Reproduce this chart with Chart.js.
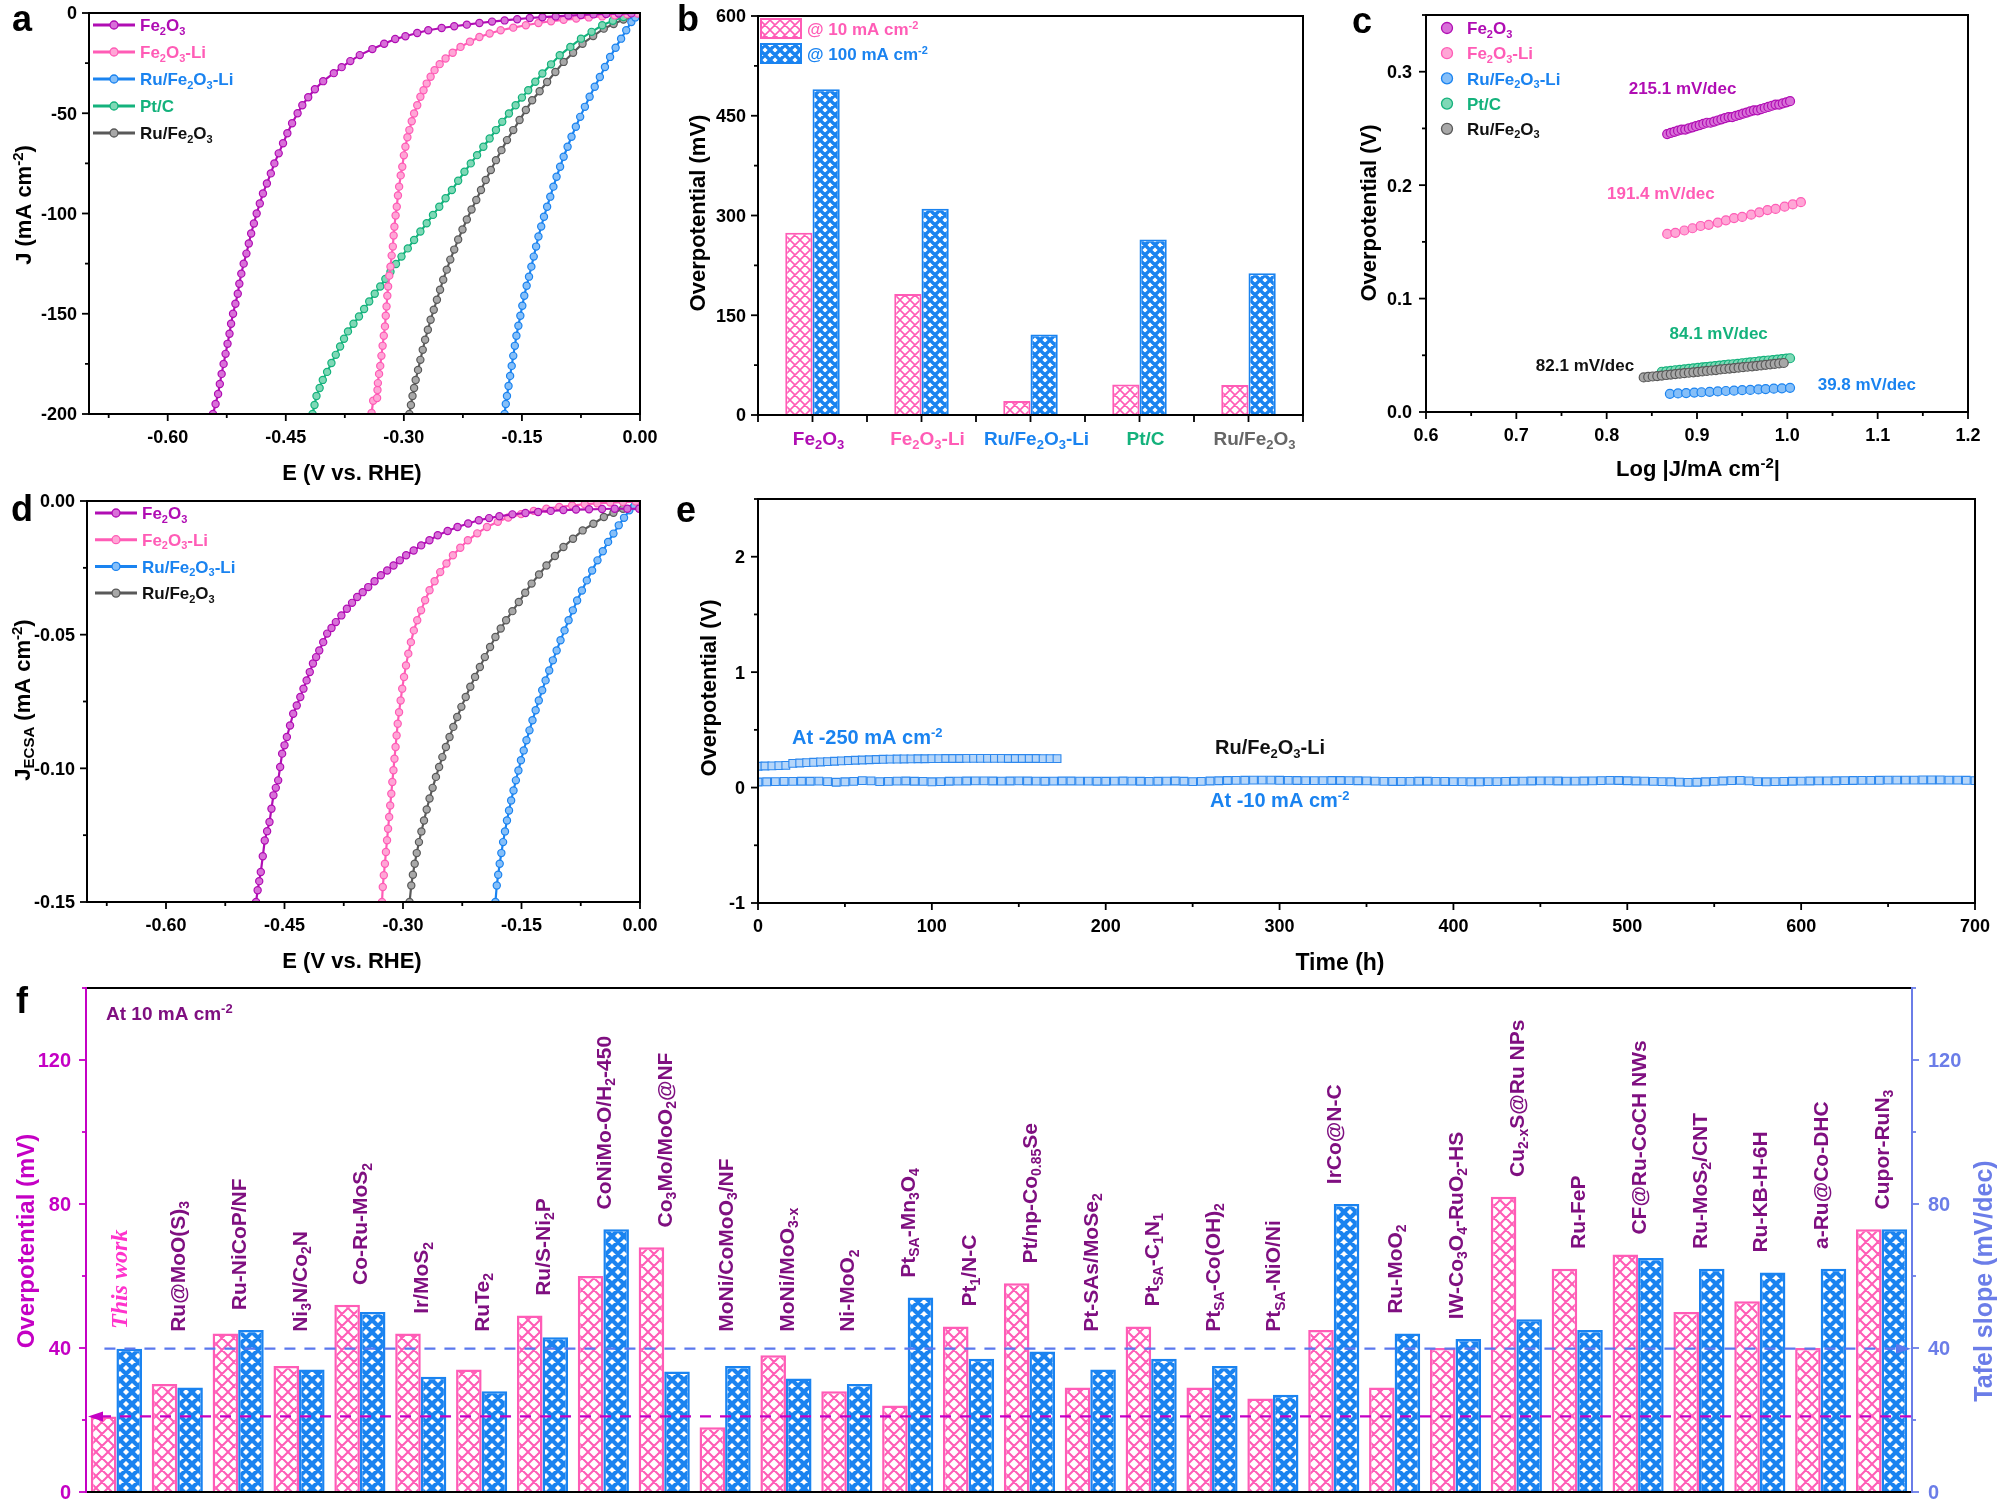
<!DOCTYPE html>
<html>
<head>
<meta charset="utf-8">
<title>Ru/Fe2O3-Li HER</title>
<script src="https://cdn.jsdelivr.net/npm/chart.js@4.4.1/dist/chart.umd.min.js"></script>
<style>
  html, body { margin: 0; padding: 0; background: #fff; }
  #wrap { position: relative; width: 1999px; height: 1502px; background: #fff; }
  #wrap canvas { position: absolute; left: 0; top: 0; }
</style>
</head>
<body>
<div id="wrap">
  <canvas id="pa" width="1999" height="1502"></canvas>
  <canvas id="pb" width="1999" height="1502"></canvas>
  <canvas id="pc" width="1999" height="1502"></canvas>
  <canvas id="pd" width="1999" height="1502"></canvas>
  <canvas id="pe" width="1999" height="1502"></canvas>
  <canvas id="pf" width="1999" height="1502"></canvas>
</div>
<script>
// ---- data ----

// a: LSV, [E (V vs RHE), J (mA cm-2)]
const aFe2O3 = [[-0.5425,-200],[-0.5392,-195],[-0.5360,-190],[-0.5338,-185],[-0.5315,-180],[-0.5290,-175],[-0.5265,-170],[-0.5240,-165],[-0.5215,-160],[-0.5195,-155],[-0.5170,-150],[-0.5140,-145],[-0.5110,-140],[-0.5090,-135],[-0.5065,-130],[-0.5035,-125],[-0.5000,-120],[-0.4970,-115],[-0.4940,-110],[-0.4905,-105],[-0.4870,-100],[-0.4830,-95],[-0.4790,-90],[-0.4740,-85],[-0.4690,-80],[-0.4645,-75],[-0.4590,-70],[-0.4535,-65],[-0.4480,-60],[-0.4420,-55],[-0.4350,-50],[-0.4290,-46],[-0.4215,-42],[-0.4130,-38],[-0.4025,-34],[-0.3890,-30],[-0.3790,-27],[-0.3680,-24],[-0.3560,-21],[-0.3400,-18],[-0.3250,-15.3],[-0.3110,-13],[-0.2980,-11.6],[-0.2830,-10],[-0.2690,-8.6],[-0.2520,-7.5],[-0.2360,-6.6],[-0.2200,-5.8],[-0.2040,-5.0],[-0.1880,-4.3],[-0.1720,-3.7],[-0.1560,-3.1],[-0.1400,-2.5],[-0.1240,-2.1],[-0.1070,-1.7],[-0.0910,-1.3],[-0.0750,-1.0],[-0.0590,-0.7],[-0.0430,-0.5],[-0.0270,-0.3],[-0.0110,-0.2]]
const aFe2O3Li = [[-0.341,-199.5],[-0.339,-193.4],[-0.334,-192],[-0.3335,-188],[-0.333,-184.6],[-0.3315,-180],[-0.330,-176],[-0.3285,-171],[-0.327,-166],[-0.3255,-161],[-0.324,-156.3],[-0.323,-151],[-0.322,-146.4],[-0.321,-141],[-0.320,-136.4],[-0.3185,-131],[-0.317,-126.5],[-0.3155,-121],[-0.314,-116.5],[-0.313,-111],[-0.312,-106.6],[-0.3105,-101],[-0.309,-96.6],[-0.3075,-91],[-0.306,-86.6],[-0.304,-81],[-0.302,-76.7],[-0.300,-71],[-0.298,-66.7],[-0.2955,-62],[-0.293,-58.4],[-0.290,-54],[-0.287,-50.1],[-0.283,-46],[-0.279,-41.8],[-0.275,-38.5],[-0.271,-35.2],[-0.266,-31.8],[-0.261,-28.5],[-0.2545,-25.5],[-0.247,-22.7],[-0.238,-19.8],[-0.228,-16.9],[-0.216,-14.3],[-0.204,-12],[-0.191,-10.2],[-0.177,-8.6],[-0.161,-7.3],[-0.145,-6.1],[-0.129,-5.0],[-0.113,-4.1],[-0.097,-3.4],[-0.081,-2.8],[-0.065,-2.2],[-0.048,-1.7],[-0.032,-1.2],[-0.016,-0.7],[-0.003,-0.3]]
const aRuLi = [[-0.172,-200],[-0.1705,-195],[-0.169,-191],[-0.167,-186],[-0.165,-181],[-0.163,-176],[-0.161,-171],[-0.159,-166],[-0.157,-161],[-0.1545,-156],[-0.152,-151],[-0.1495,-146],[-0.147,-141],[-0.144,-136],[-0.141,-131.5],[-0.138,-126.5],[-0.135,-121.5],[-0.132,-116.5],[-0.129,-111.5],[-0.1255,-106.5],[-0.122,-101.6],[-0.118,-96.6],[-0.114,-91.6],[-0.110,-86.6],[-0.106,-81.7],[-0.1015,-76.7],[-0.097,-71.7],[-0.092,-66.7],[-0.087,-61.7],[-0.0815,-56.7],[-0.076,-51.8],[-0.070,-46.8],[-0.064,-41.8],[-0.0575,-36.8],[-0.051,-31.9],[-0.0445,-26.9],[-0.038,-21.9],[-0.031,-17.3],[-0.024,-12.8],[-0.0175,-8.6],[-0.011,-4.5],[-0.006,-2.2],[-0.001,-0.3]]
const aPtC = [[-0.416,-200],[-0.4135,-195.5],[-0.411,-191],[-0.407,-187],[-0.403,-183],[-0.3975,-179],[-0.392,-174.6],[-0.3865,-170.5],[-0.381,-166.3],[-0.376,-162.5],[-0.371,-158.8],[-0.364,-155],[-0.357,-151.4],[-0.3505,-147.6],[-0.344,-143.9],[-0.337,-140],[-0.330,-136.4],[-0.3235,-132.7],[-0.317,-129],[-0.310,-125.2],[-0.303,-121.5],[-0.295,-117.4],[-0.287,-113.2],[-0.279,-109],[-0.271,-104.9],[-0.263,-100.7],[-0.255,-96.6],[-0.247,-92.4],[-0.239,-88.3],[-0.231,-83.7],[-0.223,-79.2],[-0.215,-75],[-0.207,-70.9],[-0.199,-66.7],[-0.191,-62.6],[-0.183,-58.4],[-0.175,-54.3],[-0.1665,-50.1],[-0.158,-46],[-0.150,-42.2],[-0.142,-38.5],[-0.133,-34.3],[-0.124,-30.2],[-0.113,-25.6],[-0.102,-21.1],[-0.0885,-16.9],[-0.075,-12.8],[-0.0615,-9.4],[-0.048,-6.1],[-0.0345,-3.9],[-0.021,-2],[-0.003,-0.3]]
const aRuFe = [[-0.293,-200],[-0.291,-195.5],[-0.289,-191],[-0.287,-187],[-0.285,-183],[-0.282,-178],[-0.279,-173],[-0.276,-168],[-0.273,-163],[-0.2695,-158],[-0.266,-153],[-0.262,-148],[-0.258,-143],[-0.254,-138],[-0.250,-133],[-0.2455,-128],[-0.241,-123],[-0.236,-118],[-0.231,-113],[-0.2255,-108],[-0.220,-103],[-0.214,-98],[-0.208,-93.3],[-0.202,-88.3],[-0.196,-83.3],[-0.1895,-78.3],[-0.183,-73.4],[-0.176,-68.4],[-0.169,-63.4],[-0.161,-58.4],[-0.153,-53.4],[-0.145,-48.4],[-0.137,-43.5],[-0.1275,-39],[-0.118,-34.4],[-0.1075,-29.4],[-0.097,-24.4],[-0.085,-19.8],[-0.073,-15.3],[-0.0595,-11.5],[-0.046,-7.8],[-0.0335,-5.5],[-0.021,-3.3],[-0.003,-0.7]]
const aXTicks = [-0.60, -0.45, -0.30, -0.15, 0.00]
const aYTicks = [-200, -150, -100, -50, 0]

// b: overpotential bars (mV)
const bCats = ['Fe_{2}O_{3}', 'Fe_{2}O_{3}-Li', 'Ru/Fe_{2}O_{3}-Li', 'Pt/C', 'Ru/Fe_{2}O_{3}']
const b10 = [274, 182, 21, 46, 45]
const b100 = [490, 310, 121, 264, 213]
const bYTicks = [0, 150, 300, 450, 600]

// c: Tafel plots, [log|J|, overpotential (V)]
const cFe2O3 = [[0.867,0.245],[0.871,0.246],[0.875,0.247],[0.879,0.248],[0.883,0.249],[0.887,0.249],[0.891,0.250],[0.895,0.251],[0.899,0.252],[0.903,0.253],[0.907,0.254],[0.911,0.255],[0.915,0.255],[0.919,0.256],[0.923,0.257],[0.927,0.258],[0.931,0.259],[0.935,0.260],[0.939,0.260],[0.943,0.261],[0.947,0.262],[0.951,0.263],[0.955,0.264],[0.959,0.265],[0.963,0.266],[0.967,0.266],[0.971,0.267],[0.975,0.268],[0.979,0.269],[0.983,0.270],[0.987,0.271],[0.991,0.271],[0.995,0.272],[0.999,0.273],[1.003,0.274]]
const cFe2O3Li = [[0.867,0.157],[0.876,0.158],[0.886,0.160],[0.895,0.162],[0.904,0.164],[0.913,0.165],[0.923,0.167],[0.932,0.169],[0.941,0.171],[0.950,0.172],[0.960,0.174],[0.969,0.176],[0.978,0.178],[0.987,0.179],[0.997,0.181],[1.006,0.183],[1.015,0.185]]
const cRuLi = [[0.870,0.0160],[0.879,0.0164],[0.888,0.0167],[0.897,0.0171],[0.905,0.0174],[0.914,0.0178],[0.923,0.0181],[0.932,0.0185],[0.941,0.0188],[0.950,0.0192],[0.959,0.0195],[0.968,0.0199],[0.976,0.0202],[0.985,0.0206],[0.994,0.0209],[1.003,0.0213]]
const cPtC = [[0.861,0.0355],[0.866,0.0359],[0.871,0.0363],[0.876,0.0368],[0.881,0.0372],[0.886,0.0376],[0.891,0.0380],[0.896,0.0384],[0.901,0.0389],[0.906,0.0393],[0.910,0.0396],[0.915,0.0400],[0.920,0.0404],[0.925,0.0409],[0.930,0.0413],[0.935,0.0417],[0.940,0.0421],[0.945,0.0425],[0.950,0.0430],[0.955,0.0434],[0.959,0.0437],[0.964,0.0441],[0.969,0.0446],[0.974,0.0450],[0.979,0.0454],[0.984,0.0458],[0.989,0.0462],[0.994,0.0467],[0.999,0.0471],[1.003,0.0474]]
const cRuFe = [[0.841,0.0305],[0.846,0.0309],[0.851,0.0313],[0.856,0.0317],[0.861,0.0321],[0.866,0.0326],[0.871,0.0330],[0.876,0.0334],[0.881,0.0338],[0.886,0.0342],[0.891,0.0346],[0.896,0.0350],[0.901,0.0354],[0.906,0.0358],[0.911,0.0362],[0.916,0.0366],[0.921,0.0370],[0.926,0.0375],[0.931,0.0379],[0.936,0.0383],[0.941,0.0387],[0.946,0.0391],[0.951,0.0395],[0.956,0.0399],[0.961,0.0403],[0.966,0.0407],[0.971,0.0411],[0.976,0.0416],[0.981,0.0420],[0.986,0.0424],[0.991,0.0428],[0.996,0.0432]]
const cSlopes = ['215.1 mV/dec', '191.4 mV/dec', '39.8 mV/dec', '84.1 mV/dec', '82.1 mV/dec']
const cXTicks = [0.6, 0.7, 0.8, 0.9, 1.0, 1.1, 1.2]
const cYTicks = [0.0, 0.1, 0.2, 0.3]

// d: ECSA-normalised LSV, [E, J_ECSA (mA cm-2)]
const dFe2O3 = [[-0.486,-0.150],[-0.484,-0.1456],[-0.482,-0.1422],[-0.480,-0.1388],[-0.4775,-0.1329],[-0.475,-0.1270],[-0.472,-0.1235],[-0.469,-0.1201],[-0.4665,-0.1151],[-0.464,-0.1101],[-0.461,-0.1073],[-0.458,-0.1045],[-0.4555,-0.0995],[-0.453,-0.0945],[-0.450,-0.0914],[-0.447,-0.0883],[-0.443,-0.0840],[-0.439,-0.0796],[-0.4345,-0.0765],[-0.430,-0.0733],[-0.426,-0.0702],[-0.422,-0.0671],[-0.418,-0.0640],[-0.414,-0.0608],[-0.410,-0.0584],[-0.406,-0.0559],[-0.401,-0.0528],[-0.396,-0.0496],[-0.3905,-0.0475],[-0.385,-0.0453],[-0.378,-0.0428],[-0.371,-0.0403],[-0.3645,-0.0381],[-0.358,-0.0359],[-0.351,-0.0341],[-0.344,-0.0322],[-0.336,-0.0300],[-0.328,-0.0278],[-0.320,-0.0260],[-0.312,-0.0241],[-0.304,-0.0222],[-0.296,-0.0203],[-0.2865,-0.0185],[-0.277,-0.0166],[-0.2665,-0.0147],[-0.256,-0.0128],[-0.2435,-0.0112],[-0.231,-0.0097],[-0.2175,-0.0084],[-0.204,-0.0072],[-0.191,-0.0064],[-0.178,-0.0057],[-0.1615,-0.0050],[-0.145,-0.0045],[-0.129,-0.0041],[-0.113,-0.0037],[-0.097,-0.0034],[-0.081,-0.0032],[-0.0645,-0.0031],[-0.048,-0.0030],[-0.032,-0.0029],[-0.016,-0.0029],[-0.001,-0.0029]]
const dFe2O3Li = [[-0.3266,-0.150],[-0.3256,-0.1444],[-0.3243,-0.1400],[-0.3229,-0.1357],[-0.3216,-0.1313],[-0.3202,-0.1269],[-0.3189,-0.1226],[-0.3175,-0.1182],[-0.3162,-0.1139],[-0.3148,-0.1095],[-0.3135,-0.1051],[-0.3121,-0.1007],[-0.3108,-0.0964],[-0.3094,-0.0920],[-0.3081,-0.0877],[-0.3067,-0.0833],[-0.3050,-0.0790],[-0.3030,-0.0746],[-0.3010,-0.0702],[-0.2987,-0.0658],[-0.2962,-0.0615],[-0.2933,-0.0571],[-0.2900,-0.0528],[-0.2863,-0.0484],[-0.2820,-0.0446],[-0.2771,-0.0409],[-0.2720,-0.0371],[-0.2664,-0.0334],[-0.2600,-0.0300],[-0.2529,-0.0266],[-0.2450,-0.0234],[-0.2368,-0.0203],[-0.2275,-0.0175],[-0.2179,-0.0147],[-0.2060,-0.0121],[-0.1937,-0.0097],[-0.1800,-0.0078],[-0.1668,-0.0062],[-0.1505,-0.0049],[-0.1345,-0.0037],[-0.1185,-0.0029],[-0.1022,-0.0022],[-0.0860,-0.0017],[-0.0700,-0.0012],[-0.0540,-0.0009],[-0.0377,-0.0006],[-0.0215,-0.0004],[-0.0054,-0.0002]]
const dRuLi = [[-0.1830,-0.150],[-0.1813,-0.1438],[-0.1795,-0.1398],[-0.1776,-0.1357],[-0.1755,-0.1317],[-0.1733,-0.1276],[-0.1709,-0.1236],[-0.1684,-0.1195],[-0.1658,-0.1158],[-0.1631,-0.1120],[-0.1601,-0.1083],[-0.1571,-0.1045],[-0.1539,-0.1008],[-0.1507,-0.0970],[-0.1472,-0.0933],[-0.1437,-0.0895],[-0.1399,-0.0858],[-0.1361,-0.0820],[-0.1321,-0.0783],[-0.1281,-0.0746],[-0.1238,-0.0708],[-0.1195,-0.0671],[-0.1149,-0.0634],[-0.1103,-0.0596],[-0.1055,-0.0559],[-0.1006,-0.0521],[-0.0955,-0.0484],[-0.0904,-0.0446],[-0.0850,-0.0409],[-0.0796,-0.0372],[-0.0735,-0.0335],[-0.0673,-0.0297],[-0.0606,-0.0260],[-0.0538,-0.0222],[-0.0471,-0.0188],[-0.0404,-0.0153],[-0.0336,-0.0122],[-0.0269,-0.0091],[-0.0202,-0.0063],[-0.0135,-0.0035],[-0.0070,-0.0019],[-0.0011,-0.0004]]
const dRuFe = [[-0.2917,-0.150],[-0.2895,-0.1438],[-0.2875,-0.1398],[-0.2852,-0.1357],[-0.2826,-0.1317],[-0.2798,-0.1276],[-0.2767,-0.1236],[-0.2734,-0.1195],[-0.2700,-0.1154],[-0.2664,-0.1113],[-0.2625,-0.1073],[-0.2583,-0.1032],[-0.2543,-0.0995],[-0.2502,-0.0958],[-0.2457,-0.0920],[-0.2411,-0.0883],[-0.2363,-0.0845],[-0.2314,-0.0808],[-0.2261,-0.0770],[-0.2206,-0.0733],[-0.2148,-0.0695],[-0.2088,-0.0658],[-0.2027,-0.0621],[-0.1964,-0.0584],[-0.1898,-0.0546],[-0.1830,-0.0509],[-0.1763,-0.0477],[-0.1695,-0.0446],[-0.1615,-0.0412],[-0.1534,-0.0378],[-0.1453,-0.0343],[-0.1372,-0.0309],[-0.1278,-0.0275],[-0.1184,-0.0241],[-0.1077,-0.0206],[-0.0969,-0.0172],[-0.0848,-0.0141],[-0.0726,-0.0110],[-0.0590,-0.0085],[-0.0457,-0.0060],[-0.0336,-0.0044],[-0.0215,-0.0029],[-0.0027,-0.0007]]
const dYTicks = [-0.15, -0.10, -0.05, 0.00]

// e: stability of Ru/Fe2O3-Li
const eT10 = [0,5,10,15,20,25,30,35,40,45,50,55,60,65,70,75,80,85,90,95,100,105,110,115,120,125,130,135,140,145,150,155,160,165,170,175,180,185,190,195,200,205,210,215,220,225,230,235,240,245,250,255,260,265,270,275,280,285,290,295,300,305,310,315,320,325,330,335,340,345,350,355,360,365,370,375,380,385,390,395,400,405,410,415,420,425,430,435,440,445,450,455,460,465,470,475,480,485,490,495,500,505,510,515,520,525,530,535,540,545,550,555,560,565,570,575,580,585,590,595,600,605,610,615,620,625,630,635,640,645,650,655,660,665,670,675,680,685,690,695,700]
const eV10 = [0.048,0.050,0.052,0.053,0.054,0.055,0.055,0.056,0.052,0.046,
  0.050,0.054,0.060,0.058,0.052,0.054,0.056,0.057,0.055,0.054,
  0.050,0.052,0.055,0.056,0.057,0.058,0.058,0.057,0.056,0.057,
  0.058,0.057,0.056,0.055,0.056,0.057,0.057,0.056,0.056,0.055,
  0.055,0.056,0.057,0.056,0.055,0.054,0.055,0.056,0.057,0.055,
  0.052,0.054,0.057,0.059,0.061,0.062,0.063,0.064,0.065,0.064,
  0.063,0.062,0.061,0.060,0.060,0.060,0.061,0.061,0.060,0.059,
  0.058,0.056,0.054,0.053,0.053,0.054,0.055,0.055,0.054,0.053,
  0.052,0.051,0.050,0.050,0.051,0.052,0.054,0.055,0.056,0.057,
  0.058,0.058,0.057,0.056,0.056,0.057,0.058,0.060,0.062,0.061,
  0.059,0.057,0.056,0.054,0.052,0.050,0.047,0.045,0.046,0.050,
  0.054,0.057,0.060,0.062,0.058,0.052,0.050,0.051,0.053,0.055,
  0.056,0.057,0.058,0.058,0.059,0.060,0.061,0.062,0.062,0.063,
  0.064,0.064,0.065,0.065,0.066,0.066,0.066,0.065,0.064,0.063,
  0.060]
const eT250 = [0,4,8,12,16,20,24,28,32,36,40,44,48,52,56,60,64,68,72,76,80,84,88,92,96,100,104,108,112,116,120,124,128,132,136,140,144,148,152,156,160,164,168,172]
const eV250 = [0.185,0.187,0.188,0.190,0.192,
  0.210,0.213,0.216,0.219,0.222,0.225,0.228,0.231,0.234,0.237,
  0.239,0.241,0.243,0.245,0.246,0.247,0.248,0.249,0.250,0.250,
  0.251,0.251,0.252,0.252,0.252,0.253,0.253,0.253,0.253,0.253,
  0.253,0.252,0.252,0.252,0.252,0.252,0.251,0.251,0.251]
const eXTicks = [0, 100, 200, 300, 400, 500, 600, 700]
const eYTicks = [-1, 0, 1, 2]

// f: comparison at 10 mA cm-2
const fLabels = ['This work', 'Ru@MoO(S)_{3}', 'Ru-NiCoP/NF', 'Ni_{3}N/Co_{2}N', 'Co-Ru-MoS_{2}', 'Ir/MoS_{2}', 'RuTe_{2}',
  'Ru/S-Ni_{2}P', 'CoNiMo-O/H_{2}-450', 'Co_{3}Mo/MoO_{2}@NF', 'MoNi/CoMoO_{3}/NF', 'MoNi/MoO_{3-x}', 'Ni-MoO_{2}',
  'Pt_{SA}-Mn_{3}O_{4}', 'Pt_{1}/N-C', 'Pt/np-Co_{0.85}Se', 'Pt-SAs/MoSe_{2}', 'Pt_{SA}-C_{1}N_{1}', 'Pt_{SA}-Co(OH)_{2}',
  'Pt_{SA}-NiO/Ni', 'IrCo@N-C', 'Ru-MoO_{2}', 'IW-Co_{3}O_{4}-RuO_{2}-HS', 'Cu_{2-x}S@Ru NPs', 'Ru-FeP',
  'CF@Ru-CoCH NWs', 'Ru-MoS_{2}/CNT', 'Ru-KB-H-6H', 'a-Ru@Co-DHC', 'Cupor-RuN_{3}']
const fOverpot = [21, 30, 44, 35, 52, 44, 34, 49, 60, 68, 18, 38, 28, 24, 46, 58, 29, 46, 29, 26, 45, 29, 40, 82, 62, 66, 50, 53, 40, 73]
const fTafel = [39.8, 29, 45, 34, 50, 32, 28, 43, 73, 33.5, 35, 31.5, 30, 54, 37, 39, 34, 37, 35, 27, 80, 44, 42.5, 48, 45, 65, 62, 61, 62, 73]
const fYTicks = [0, 40, 80, 120]

// ---- drawing ----
const W = 1999, H = 1502
const SANS = '"Liberation Sans", Arial, Helvetica, sans-serif'
const SERIF = '"Liberation Serif", "Times New Roman", serif'
const COL = { fe: '#b00db3', li: '#ff5cb6', ru: '#1a83f0', pt: '#14b27c', rf: '#595959' }
const FILL = { fe: '#d870d8', li: '#ffa6d6', ru: '#86bff8', pt: '#7fd8b6', rf: '#a8a8a8' }
const PURPLE = '#7f0f80', MAG = '#c400c4', TAF = '#6b7de8'

// plot rectangles of each panel (page pixels)
const A_A = { L: 89, T: 13, R: 640, B: 414 }
const A_B = { L: 758, T: 16, R: 1303, B: 415 }
const A_C = { L: 1426, T: 15, R: 1968, B: 412 }
const A_D = { L: 87, T: 501, R: 640, B: 902 }
const A_E = { L: 758, T: 499, R: 1975, B: 903 }
const A_F = { L: 86, T: 988, R: 1912, B: 1492 }

function parseRich(s) {
    const out = []
    const re = /([_^])\{([^}]*)\}/g
    let last = 0, m
    while ((m = re.exec(s))) {
        if (m.index > last) out.push({ t: s.slice(last, m.index), k: '' })
        out.push({ t: m[2], k: m[1] })
        last = re.lastIndex
    }
    if (last < s.length) out.push({ t: s.slice(last), k: '' })
    return out
}

// text with _{sub} and ^{sup}; y is the middle of the capitals
function rich(ctx, s, x, y, o) {
    const sz = o.size || 18
    const fam = o.family || SANS
    const pre = (o.style || 'normal') + ' ' + (o.weight || 'bold') + ' '
    const segs = parseRich(s)
    let total = 0
    segs.forEach(g => {
        ctx.font = pre + (g.k ? Math.round(sz * 0.66) : sz) + 'px ' + fam
        g.w = ctx.measureText(g.t).width
        total += g.w
    })
    ctx.save()
    ctx.translate(x, y)
    if (o.rot) ctx.rotate(o.rot)
    ctx.fillStyle = o.color || '#000'
    ctx.textAlign = 'left'
    ctx.textBaseline = 'alphabetic'
    let cx = o.align === 'center' ? -total / 2 : o.align === 'right' ? -total : 0
    segs.forEach(g => {
        ctx.font = pre + (g.k ? Math.round(sz * 0.66) : sz) + 'px ' + fam
        const dy = g.k === '_' ? sz * 0.2 : g.k === '^' ? -sz * 0.36 : 0
        ctx.fillText(g.t, cx, sz * 0.36 + dy)
        cx += g.w
    })
    ctx.restore()
}

function letter(ctx, t, x, y) {
    ctx.save()
    ctx.font = 'bold 36px ' + SANS
    ctx.fillStyle = '#000'
    ctx.textBaseline = 'alphabetic'
    ctx.fillText(t, x, y)
    ctx.restore()
}

function seg(ctx, x1, y1, x2, y2) {
    ctx.beginPath(); ctx.moveTo(x1, y1); ctx.lineTo(x2, y2); ctx.stroke()
}

function frame(ctx, a, c) {
    c = Object.assign({ top: '#000', bottom: '#000', left: '#000', right: '#000' }, c || {})
    ctx.save()
    ctx.lineWidth = 2
    ctx.lineCap = 'square'
    ctx.strokeStyle = c.top; seg(ctx, a.left, a.top, a.right, a.top)
    ctx.strokeStyle = c.bottom; seg(ctx, a.left, a.bottom, a.right, a.bottom)
    ctx.strokeStyle = c.left; seg(ctx, a.left, a.top, a.left, a.bottom)
    ctx.strokeStyle = c.right; seg(ctx, a.right, a.top, a.right, a.bottom)
    ctx.restore()
}

function minorsOf(vals, min, max) {
    const out = []
    for (let i = 0; i < vals.length - 1; i++) out.push((vals[i] + vals[i + 1]) / 2)
    const st = vals[1] - vals[0], eps = Math.abs(st) * 1e-6
    if (vals[0] - st / 2 >= min - eps) out.unshift(vals[0] - st / 2)
    if (vals[vals.length - 1] + st / 2 <= max + eps) out.push(vals[vals.length - 1] + st / 2)
    return out
}

function tickMarks(chart, id, side, color) {
    const s = chart.scales[id], a = chart.chartArea, ctx = chart.ctx
    const major = s.ticks.map(t => t.value)
    const minor = minorsOf(major, s.min, s.max)
    ctx.save()
    ctx.strokeStyle = color || '#000'
    ctx.lineWidth = 1.8
    const mark = (v, len) => {
        const p = s.getPixelForValue(v)
        if (side === 'bottom') seg(ctx, p, a.bottom, p, a.bottom + len)
        else if (side === 'left') seg(ctx, a.left, p, a.left - len, p)
        else seg(ctx, a.right, p, a.right + len, p)
    }
    major.forEach(v => mark(v, 7))
    minor.forEach(v => mark(v, 4))
    ctx.restore()
}

function tickLabels(chart, id, side, fmt, o) {
    const s = chart.scales[id], a = chart.chartArea, ctx = chart.ctx
    s.ticks.forEach(t => {
        const p = s.getPixelForValue(t.value), txt = fmt(t.value)
        if (side === 'bottom') rich(ctx, txt, p, a.bottom + o.off, Object.assign({ align: 'center' }, o))
        else if (side === 'left') rich(ctx, txt, a.left - o.off, p, Object.assign({ align: 'right' }, o))
        else rich(ctx, txt, a.right + o.off, p, Object.assign({ align: 'left' }, o))
    })
}

function lineLegend(ctx, items, x, y0, dy, withLine) {
    items.forEach((it, i) => {
        const y = y0 + i * dy
        ctx.save()
        if (withLine) {
            ctx.strokeStyle = it.c; ctx.lineWidth = 3
            seg(ctx, x, y, x + 42, y)
        }
        ctx.beginPath()
        ctx.arc(x + (withLine ? 21 : 0), y, withLine ? 4 : 5.5, 0, Math.PI * 2)
        ctx.fillStyle = it.f; ctx.fill()
        ctx.lineWidth = 1.3; ctx.strokeStyle = it.c; ctx.stroke()
        ctx.restore()
        rich(ctx, it.name, x + (withLine ? 47 : 20), y, { size: 17, color: it.t })
    })
}

function hatch(fg, size, lw) {
    const c = document.createElement('canvas')
    c.width = c.height = size
    const g = c.getContext('2d')
    g.fillStyle = '#fff'
    g.fillRect(0, 0, size, size)
    g.strokeStyle = fg
    g.lineWidth = lw
    g.beginPath()
    for (const o of [-size, 0, size]) {
        g.moveTo(o, 0); g.lineTo(o + size, size)
        g.moveTo(o + size, 0); g.lineTo(o, size)
    }
    g.stroke()
    return g.createPattern(c, 'repeat')
}

const fixTicks = vals => s => { s.ticks = vals.map(v => ({ value: v })) }
const noGrid = { display: false, drawTicks: false }

function hAxis(area, o) {
    return Object.assign({ type: 'linear', afterFit: s => { s.height = H - area.B },
        ticks: { display: false }, grid: noGrid, border: { display: false } }, o)
}
function vAxis(area, o, right) {
    return Object.assign({ type: 'linear', position: right ? 'right' : 'left',
        afterFit: s => { s.width = right ? W - area.R : area.L },
        ticks: { display: false }, grid: noGrid, border: { display: false } }, o)
}

function mkChart(id, type, data, area, scales, deco) {
    return new Chart(document.getElementById(id), {
        type: type,
        data: data,
        options: {
            responsive: false,
            animation: false,
            events: [],
            layout: { padding: { left: 0, top: area.T, right: scales.y2 ? 0 : W - area.R, bottom: 0 } },
            plugins: { legend: { display: false }, tooltip: { enabled: false } },
            scales: scales
        },
        plugins: [{ id: 'deco_' + id, afterDraw: deco }]
    })
}

function curve(pts, k, r, showLine) {
    return {
        data: pts.map(p => ({ x: p[0], y: p[1] })),
        borderColor: COL[k], backgroundColor: FILL[k],
        pointBackgroundColor: FILL[k], pointBorderColor: COL[k],
        pointBorderWidth: 1.2, pointRadius: r,
        borderWidth: 2.2, showLine: showLine, tension: 0
    }
}

const legA = [
    { name: 'Fe_{2}O_{3}', c: COL.fe, f: FILL.fe, t: COL.fe },
    { name: 'Fe_{2}O_{3}-Li', c: COL.li, f: FILL.li, t: COL.li },
    { name: 'Ru/Fe_{2}O_{3}-Li', c: COL.ru, f: FILL.ru, t: COL.ru },
    { name: 'Pt/C', c: COL.pt, f: FILL.pt, t: COL.pt },
    { name: 'Ru/Fe_{2}O_{3}', c: COL.rf, f: FILL.rf, t: '#111' }
]
const legD = [legA[0], legA[1], legA[2], legA[4]]
const ROT = -Math.PI / 2

// ---- a ----
mkChart('pa', 'line', {
    datasets: [curve(aFe2O3, 'fe', 3.6, true), curve(aFe2O3Li, 'li', 3.6, true), curve(aRuLi, 'ru', 3.6, true),
        curve(aPtC, 'pt', 3.6, true), curve(aRuFe, 'rf', 3.6, true)]
}, A_A, {
    x: hAxis(A_A, { min: -0.70, max: 0, afterBuildTicks: fixTicks(aXTicks) }),
    y: vAxis(A_A, { min: -200, max: 0, afterBuildTicks: fixTicks(aYTicks) })
}, chart => {
    const ctx = chart.ctx
    frame(ctx, chart.chartArea)
    tickMarks(chart, 'x', 'bottom'); tickMarks(chart, 'y', 'left')
    tickLabels(chart, 'x', 'bottom', v => v.toFixed(2), { off: 23, size: 18 })
    tickLabels(chart, 'y', 'left', v => String(v), { off: 12, size: 18 })
    letter(ctx, 'a', 12, 31)
    rich(ctx, 'J (mA cm^{-2})', 23, 205, { size: 22, align: 'center', rot: ROT })
    rich(ctx, 'E (V vs. RHE)', 352, 472, { size: 22, align: 'center' })
    lineLegend(ctx, legA, 93, 25, 27, true)
})

// ---- b ----
const pinkB = hatch(COL.li, 10, 1.6), blueB = hatch(COL.ru, 10, 3.4)
mkChart('pb', 'bar', {
    labels: bCats,
    datasets: [
        { data: b10, backgroundColor: pinkB, borderColor: COL.li, borderWidth: 2, categoryPercentage: 0.5, barPercentage: 1 },
        { data: b100, backgroundColor: blueB, borderColor: COL.ru, borderWidth: 2, categoryPercentage: 0.5, barPercentage: 1 }
    ]
}, A_B, {
    x: hAxis(A_B, { type: 'category', offset: true }),
    y: vAxis(A_B, { min: 0, max: 600, afterBuildTicks: fixTicks(bYTicks) })
}, chart => {
    const ctx = chart.ctx, a = chart.chartArea, xs = chart.scales.x
    frame(ctx, a)
    tickMarks(chart, 'y', 'left')
    const half = (xs.getPixelForTick(1) - xs.getPixelForTick(0)) / 2
    ctx.save(); ctx.strokeStyle = '#000'; ctx.lineWidth = 1.8
    bCats.forEach((c, i) => {
        const p = xs.getPixelForTick(i)
        seg(ctx, p, a.bottom, p, a.bottom + 7)
        seg(ctx, p + half, a.bottom, p + half, a.bottom + 7)
        if (i === 0) seg(ctx, p - half, a.bottom, p - half, a.bottom + 7)
    })
    ctx.restore()
    tickLabels(chart, 'y', 'left', v => String(v), { off: 12, size: 18 })
    const bCol = [COL.fe, COL.li, COL.ru, COL.pt, '#666']
    bCats.forEach((c, i) => rich(ctx, c, xs.getPixelForTick(i) + 6, a.bottom + 23, { size: 19, align: 'center', color: bCol[i] }))
    letter(ctx, 'b', 677, 31)
    rich(ctx, 'Overpotential (mV)', 697, 213, { size: 22, align: 'center', rot: ROT })
    ctx.save()
    ctx.lineWidth = 2
    ctx.fillStyle = pinkB; ctx.fillRect(761, 19, 40, 19); ctx.strokeStyle = COL.li; ctx.strokeRect(761, 19, 40, 19)
    ctx.fillStyle = blueB; ctx.fillRect(761, 44, 40, 19); ctx.strokeStyle = COL.ru; ctx.strokeRect(761, 44, 40, 19)
    ctx.restore()
    rich(ctx, '@ 10 mA cm^{-2}', 807, 29, { size: 17, color: COL.li })
    rich(ctx, '@ 100 mA cm^{-2}', 807, 54, { size: 17, color: COL.ru })
})

// ---- c ----
mkChart('pc', 'line', {
    datasets: [curve(cFe2O3, 'fe', 4.5, false), curve(cFe2O3Li, 'li', 4.5, false), curve(cRuLi, 'ru', 4.5, false),
        curve(cPtC, 'pt', 4.5, false), curve(cRuFe, 'rf', 4.5, false)].reverse()
}, A_C, {
    x: hAxis(A_C, { min: 0.6, max: 1.2, afterBuildTicks: fixTicks(cXTicks) }),
    y: vAxis(A_C, { min: 0, max: 0.35, afterBuildTicks: fixTicks(cYTicks) })
}, chart => {
    const ctx = chart.ctx, xs = chart.scales.x, ys = chart.scales.y
    frame(ctx, chart.chartArea)
    tickMarks(chart, 'x', 'bottom'); tickMarks(chart, 'y', 'left')
    tickLabels(chart, 'x', 'bottom', v => v.toFixed(1), { off: 23, size: 18 })
    tickLabels(chart, 'y', 'left', v => v.toFixed(1), { off: 14, size: 18 })
    letter(ctx, 'c', 1352, 33)
    rich(ctx, 'Overpotential (V)', 1368, 213, { size: 22, align: 'center', rot: ROT })
    rich(ctx, 'Log |J/mA cm^{-2}|', 1698, 468, { size: 22, align: 'center' })
    lineLegend(ctx, legA, 1447, 28, 25.2, false)
    const put = (t, x, y, col) => rich(ctx, t, xs.getPixelForValue(x), ys.getPixelForValue(y), { size: 17, align: 'center', color: col })
    put(cSlopes[0], 0.884, 0.286, COL.fe)
    put(cSlopes[1], 0.860, 0.193, COL.li)
    put(cSlopes[2], 1.088, 0.025, COL.ru)
    put(cSlopes[3], 0.924, 0.0697, COL.pt)
    put(cSlopes[4], 0.776, 0.0418, '#111')
})

// ---- d ----
mkChart('pd', 'line', {
    datasets: [curve(dFe2O3, 'fe', 3.6, true), curve(dFe2O3Li, 'li', 3.6, true), curve(dRuLi, 'ru', 3.6, true),
        curve(dRuFe, 'rf', 3.6, true)]
}, A_D, {
    x: hAxis(A_D, { min: -0.70, max: 0, afterBuildTicks: fixTicks(aXTicks) }),
    y: vAxis(A_D, { min: -0.15, max: 0, afterBuildTicks: fixTicks(dYTicks) })
}, chart => {
    const ctx = chart.ctx
    frame(ctx, chart.chartArea)
    tickMarks(chart, 'x', 'bottom'); tickMarks(chart, 'y', 'left')
    tickLabels(chart, 'x', 'bottom', v => v.toFixed(2), { off: 23, size: 18 })
    tickLabels(chart, 'y', 'left', v => v.toFixed(2), { off: 12, size: 18 })
    letter(ctx, 'd', 11, 521)
    rich(ctx, 'J_{ECSA} (mA cm^{-2})', 22, 700, { size: 22, align: 'center', rot: ROT })
    rich(ctx, 'E (V vs. RHE)', 352, 960, { size: 22, align: 'center' })
    lineLegend(ctx, legD, 95, 513, 26.7, true)
})

// ---- e ----
const stab = (t, v) => ({
    data: t.map((h, i) => ({ x: h, y: v[i] })),
    showLine: false, pointStyle: 'rect', pointRadius: 5.5,
    pointBackgroundColor: '#b5d6fa', pointBorderColor: '#2d88ee', pointBorderWidth: 1.1
})
mkChart('pe', 'line', {
    datasets: [stab(eT10, eV10), stab(eT250, eV250)]
}, A_E, {
    x: hAxis(A_E, { min: 0, max: 700, afterBuildTicks: fixTicks(eXTicks) }),
    y: vAxis(A_E, { min: -1, max: 2.5, afterBuildTicks: fixTicks(eYTicks) })
}, chart => {
    const ctx = chart.ctx
    frame(ctx, chart.chartArea)
    tickMarks(chart, 'x', 'bottom'); tickMarks(chart, 'y', 'left')
    tickLabels(chart, 'x', 'bottom', v => String(v), { off: 23, size: 18 })
    tickLabels(chart, 'y', 'left', v => String(v), { off: 13, size: 18 })
    letter(ctx, 'e', 676, 522)
    rich(ctx, 'Overpotential (V)', 708, 688, { size: 22, align: 'center', rot: ROT })
    rich(ctx, 'Time (h)', 1340, 962, { size: 23, align: 'center' })
    rich(ctx, 'At -250 mA cm^{-2}', 792, 737, { size: 20, color: COL.ru })
    rich(ctx, 'Ru/Fe_{2}O_{3}-Li', 1215, 747, { size: 20, color: '#111' })
    rich(ctx, 'At -10 mA cm^{-2}', 1210, 800, { size: 20, color: COL.ru })
})

// ---- f ----
const pinkF = hatch(COL.li, 12, 2), blueF = hatch(COL.ru, 12, 4.2)
mkChart('pf', 'bar', {
    labels: fLabels,
    datasets: [
        { data: fOverpot, yAxisID: 'y', backgroundColor: pinkF, borderColor: COL.li, borderWidth: 2.5, categoryPercentage: 0.84, barPercentage: 1 },
        { data: fTafel, yAxisID: 'y2', backgroundColor: blueF, borderColor: COL.ru, borderWidth: 2.5, categoryPercentage: 0.84, barPercentage: 1 }
    ]
}, A_F, {
    x: hAxis(A_F, { type: 'category', offset: true }),
    y: vAxis(A_F, { min: 0, max: 140, afterBuildTicks: fixTicks(fYTicks) }),
    y2: vAxis(A_F, { min: 0, max: 140, afterBuildTicks: fixTicks(fYTicks) }, true)
}, chart => {
    const ctx = chart.ctx, a = chart.chartArea, xs = chart.scales.x, yl = chart.scales.y, yr = chart.scales.y2
    // reference lines of this work
    const yP = yl.getPixelForValue(fOverpot[0]), yT = yr.getPixelForValue(fTafel[0])
    ctx.save()
    ctx.lineWidth = 2.2
    ctx.setLineDash([11, 9])
    ctx.strokeStyle = MAG; seg(ctx, a.left + 14, yP, a.right, yP)
    ctx.strokeStyle = '#5a78ee'; seg(ctx, xs.getPixelForTick(0) - 12, yT, a.right - 14, yT)
    ctx.setLineDash([])
    ctx.fillStyle = MAG
    ctx.beginPath(); ctx.moveTo(a.left + 2, yP); ctx.lineTo(a.left + 17, yP - 5); ctx.lineTo(a.left + 17, yP + 5); ctx.fill()
    ctx.fillStyle = '#5a78ee'
    ctx.beginPath(); ctx.moveTo(a.right - 1, yT); ctx.lineTo(a.right - 16, yT - 5); ctx.lineTo(a.right - 16, yT + 5); ctx.fill()
    ctx.restore()
    frame(ctx, a, { left: MAG, right: TAF })
    tickMarks(chart, 'y', 'left', MAG); tickMarks(chart, 'y2', 'right', TAF)
    tickLabels(chart, 'y', 'left', v => String(v), { off: 15, size: 20, color: MAG })
    tickLabels(chart, 'y2', 'right', v => String(v), { off: 16, size: 20, color: TAF })
    fLabels.forEach((s, i) => {
        const x = xs.getPixelForTick(i)
        const y = yl.getPixelForValue(Math.max(Math.max(fOverpot[i], fTafel[i]) + 5.5, 44.5))
        if (i === 0) rich(ctx, s, x + 2, y, { size: 24, family: SERIF, style: 'italic', color: '#ff33cc', rot: ROT })
        else rich(ctx, s, x, y, { size: 21, color: PURPLE, rot: ROT })
    })
    letter(ctx, 'f', 16, 1013)
    rich(ctx, 'At 10 mA cm^{-2}', 106, 1013, { size: 19, color: PURPLE })
    rich(ctx, 'Overpotential (mV)', 25, 1241, { size: 24, align: 'center', rot: ROT, color: MAG })
    rich(ctx, 'Tafel slope (mV/dec)', 1983, 1281, { size: 25, align: 'center', rot: ROT, color: TAF })
})
</script>
</body>
</html>
